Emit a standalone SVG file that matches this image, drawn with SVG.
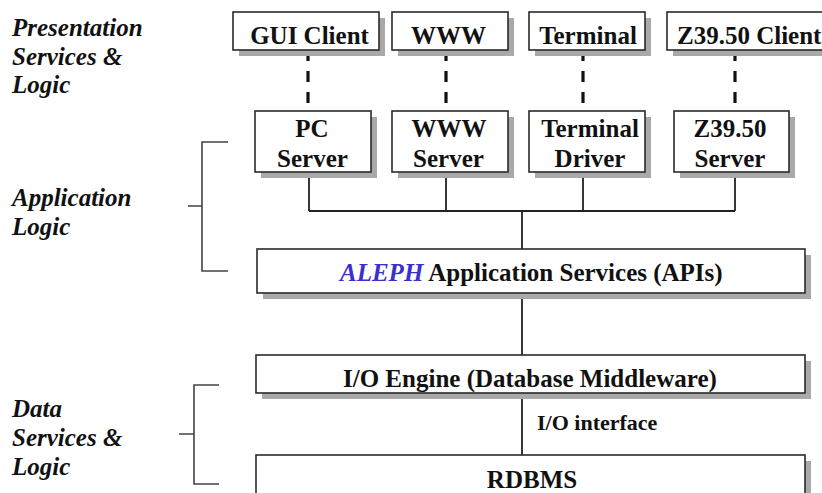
<svg xmlns="http://www.w3.org/2000/svg" width="822" height="493" viewBox="0 0 822 493">
<style>
.bx{fill:#fff;stroke:#2a2a2a;stroke-width:1.6}
.sh{fill:#a9a9a9}
.t{font-family:"Liberation Serif","Times New Roman",serif;font-weight:bold;font-size:25px;fill:#111;text-anchor:middle}
.lb{font-family:"Liberation Serif","Times New Roman",serif;font-weight:bold;font-style:italic;font-size:25px;fill:#111}
.ln{stroke:#222;stroke-width:1.8;fill:none}
.ds{stroke:#111;stroke-width:3.2;stroke-dasharray:11 10;fill:none}
.br{stroke:#444;stroke-width:1.6;fill:none}
</style>
<rect width="822" height="493" fill="#fff"/>
<g id="labels">
<text class="lb" x="12" y="36">Presentation</text>
<text class="lb" x="12" y="65">Services &amp;</text>
<text class="lb" x="12" y="93">Logic</text>
<text class="lb" x="12" y="206">Application</text>
<text class="lb" x="12" y="235">Logic</text>
<text class="lb" x="12" y="417">Data</text>
<text class="lb" x="12" y="446">Services &amp;</text>
<text class="lb" x="12" y="475">Logic</text>
</g>
<g id="brackets">
<path class="br" d="M228 142H202V271H228M188 206H202"/>
<path class="br" d="M219 385H194V484H219M179 434H194"/>
</g>
<g id="connectors">
<path class="ds" d="M308 50V111M446 50V111M583 50V111M735 50V111"/>
<path class="ln" d="M309 172V211M446 172V211M583 172V211M735 172V211M309 211H735M522 211V249M522 293V355M522 393V455"/>
</g>
<g id="gui-client"><rect class="sh" x="239" y="18" width="146" height="38"/><rect class="bx" x="233" y="12" width="146" height="38"/><text class="t" x="309.5" y="44">GUI Client</text></g>
<g id="www"><rect class="sh" x="398" y="18" width="116" height="38"/><rect class="bx" x="392" y="12" width="116" height="38"/><text class="t" x="448.5" y="44">WWW</text></g>
<g id="terminal"><rect class="sh" x="535" y="18" width="116" height="38"/><rect class="bx" x="529" y="12" width="116" height="38"/><text class="t" x="588" y="44">Terminal</text></g>
<g id="z3950-client"><rect class="sh" x="673" y="18" width="163" height="38"/><rect class="bx" x="667" y="12" width="163" height="38"/><text class="t" x="677" y="44" style="text-anchor:start">Z39.50 Client</text></g>
<g id="pc-server"><rect class="sh" x="261" y="117" width="116" height="61"/><rect class="bx" x="255" y="111" width="116" height="61"/><text class="t" x="312" y="137">PC</text><text class="t" x="312.5" y="167">Server</text></g>
<g id="www-server"><rect class="sh" x="398" y="117" width="116" height="61"/><rect class="bx" x="392" y="111" width="116" height="61"/><text class="t" x="449" y="137">WWW</text><text class="t" x="448.5" y="167">Server</text></g>
<g id="terminal-driver"><rect class="sh" x="535" y="117" width="116" height="61"/><rect class="bx" x="529" y="111" width="116" height="61"/><text class="t" x="590" y="137">Terminal</text><text class="t" x="590" y="167">Driver</text></g>
<g id="z3950-server"><rect class="sh" x="680" y="117" width="115" height="61"/><rect class="bx" x="674" y="111" width="115" height="61"/><text class="t" x="730" y="137">Z39.50</text><text class="t" x="730" y="167">Server</text></g>
<g id="aleph"><rect class="sh" x="263" y="255" width="548" height="44"/><rect class="bx" x="257" y="249" width="548" height="44"/><text class="t" x="340" y="281" style="text-anchor:start"><tspan style="font-style:italic;fill:#3b2fd0">ALEPH</tspan> Application Services (APIs)</text></g>
<g id="io-engine"><rect class="sh" x="262" y="361" width="549" height="38"/><rect class="bx" x="256" y="355" width="549" height="38"/><text class="t" x="343" y="387" style="text-anchor:start">I/O Engine (Database Middleware)</text></g>
<g id="io-interface"><text class="t" x="537" y="430" style="text-anchor:start;font-size:22px">I/O interface</text></g>
<g id="rdbms"><rect class="sh" x="262" y="461" width="549" height="40"/><rect class="bx" x="256" y="455" width="549" height="40"/><text class="t" x="532" y="488">RDBMS</text></g>
</svg>
